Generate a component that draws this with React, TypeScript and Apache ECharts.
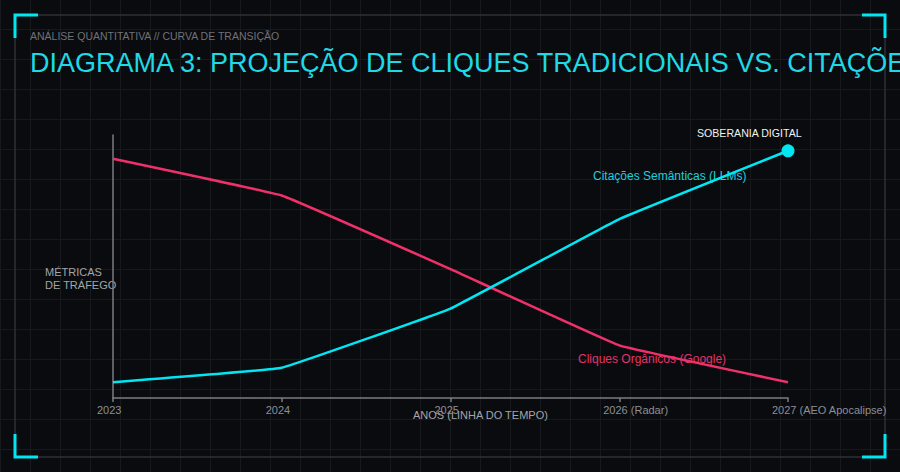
import React, { useEffect, useRef } from "react";
import * as echarts from "echarts";

const years = ["2023", "2024", "2025", "2026 (Radar)", "2027 (AEO Apocalipse)"];
const organicClicks = [91, 77, 49, 20, 6];
const semanticCitations = [6, 11.5, 34, 68, 94];

const CYAN = "#00e6f2";
const RED = "#f0306a";
const FONT = "'Liberation Sans', Arial, sans-serif";

export default function App() {
  const ref = useRef<HTMLDivElement>(null);

  useEffect(() => {
    if (!ref.current) return;
    const chart = echarts.init(ref.current, undefined, { renderer: "svg" });
    const last = semanticCitations.length - 1;

    const bracket = (pts: number[][]) => ({
      type: "polyline",
      shape: { points: pts },
      style: { stroke: CYAN, lineWidth: 3, fill: "none" },
    });

    chart.setOption({
      animation: false,
      backgroundColor: "transparent",
      grid: { left: 113, right: 112, top: 135, bottom: 74 },
      xAxis: {
        type: "category",
        data: years,
        boundaryGap: false,
        axisLine: { show: true, lineStyle: { color: "#7a7d82", width: 1.5 } },
        axisTick: { show: true, length: 4, lineStyle: { color: "#7a7d82", width: 1.5 } },
        axisLabel: {
          color: "#8c8f95",
          fontSize: 11,
          fontFamily: FONT,
          margin: 6,
          align: "left",
          padding: [0, 0, 0, -16],
        },
        splitLine: { show: false },
      },
      yAxis: {
        type: "value",
        min: 0,
        max: 100,
        axisLine: { show: true, lineStyle: { color: "#7a7d82", width: 1.5 } },
        axisTick: { show: false },
        axisLabel: { show: false },
        splitLine: { show: false },
      },
      series: [
        {
          type: "line",
          name: "Cliques Orgânicos (Google)",
          data: organicClicks,
          smooth: 0.06,
          symbol: "none",
          lineStyle: { color: RED, width: 2.5 },
          z: 3,
        },
        {
          type: "line",
          name: "Citações Semânticas (LLMs)",
          data: semanticCitations.map((v, i) =>
            i === last
              ? { value: v, symbol: "circle", symbolSize: 13, itemStyle: { color: CYAN } }
              : { value: v, symbol: "none" }
          ),
          smooth: 0.06,
          showSymbol: true,
          lineStyle: { color: CYAN, width: 2.5 },
          itemStyle: { color: CYAN },
          z: 3,
        },
      ],
      graphic: [
        {
          type: "rect",
          shape: { x: 15, y: 15, width: 870, height: 442 },
          style: { fill: "none", stroke: "#2e3136", lineWidth: 1.5 },
          z: 0,
        },
        bracket([[15, 38], [15, 15], [38, 15]]),
        bracket([[862, 15], [885, 15], [885, 38]]),
        bracket([[15, 434], [15, 457], [38, 457]]),
        bracket([[862, 457], [885, 457], [885, 434]]),
        {
          type: "text",
          x: 30,
          y: 36,
          style: {
            text: "ANÁLISE QUANTITATIVA // CURVA DE TRANSIÇÃO",
            fill: "#6f7278",
            font: `10.5px ${FONT}`,
            verticalAlign: "middle",
          },
        },
        {
          type: "text",
          x: 30,
          y: 63,
          style: {
            text: "DIAGRAMA 3: PROJEÇÃO DE CLIQUES TRADICIONAIS VS. CITAÇÕES",
            fill: "#1fd9e6",
            font: `27px ${FONT}`,
            verticalAlign: "middle",
          },
        },
        {
          type: "text",
          x: 45,
          y: 272,
          style: { text: "MÉTRICAS", fill: "#a2a5aa", font: `11px ${FONT}`, verticalAlign: "middle" },
        },
        {
          type: "text",
          x: 45,
          y: 285,
          style: { text: "DE TRÁFEGO", fill: "#a2a5aa", font: `11px ${FONT}`, verticalAlign: "middle" },
        },
        {
          type: "text",
          x: 413,
          y: 415,
          style: { text: "ANOS (LINHA DO TEMPO)", fill: "#a2a5aa", font: `11px ${FONT}`, verticalAlign: "middle" },
        },
        {
          type: "text",
          x: 697,
          y: 133,
          style: { text: "SOBERANIA DIGITAL", fill: "#f2f2f2", font: `10.6px ${FONT}`, verticalAlign: "middle" },
        },
        {
          type: "text",
          x: 593,
          y: 176,
          style: { text: "Citações Semânticas (LLMs)", fill: "#1fd0dd", font: `12px ${FONT}`, verticalAlign: "middle" },
        },
        {
          type: "text",
          x: 578,
          y: 359,
          style: { text: "Cliques Orgânicos (Google)", fill: "#e0356a", font: `12px ${FONT}`, verticalAlign: "middle" },
        },
      ],
    });

    return () => chart.dispose();
  }, []);

  return (
    <div
      style={{
        position: "absolute",
        left: 0,
        top: 0,
        width: 900,
        height: 472,
        overflow: "hidden",
        backgroundColor: "#0a0b0e",
        backgroundImage:
          "linear-gradient(to right, #17191d 1px, transparent 1px), linear-gradient(to bottom, #17191d 1px, transparent 1px)",
        backgroundSize: "30px 30px",
        backgroundPosition: "0px -1px",
      }}
    >
      <div ref={ref} style={{ width: 900, height: 472 }} />
    </div>
  );
}
